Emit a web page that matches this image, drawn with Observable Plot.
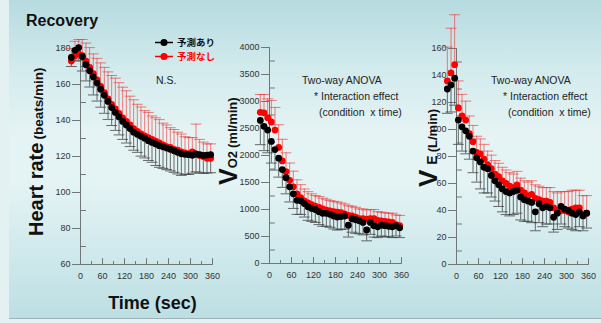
<!DOCTYPE html>
<html>
<head>
<meta charset="utf-8">
<script src="https://cdn.jsdelivr.net/npm/d3@7"></script>
<script src="https://cdn.jsdelivr.net/npm/@observablehq/plot@0.6"></script>
<style>
html, body { margin: 0; padding: 0; }
body { width: 601px; height: 323px; overflow: hidden; background: #e4f1f3; font-family: "Liberation Sans", Arial, sans-serif; }
#wrap { position: relative; width: 601px; height: 323px; }
#bg { position: absolute; left: 9px; top: 0; width: 592px; height: 318px;
  background: linear-gradient(180deg, #b6dbe0 0%, #d3ebed 22%, #e5f3f4 42%, #e4f3f4 58%, #cde8eb 82%, #bcdfe3 100%);
  border-bottom: 1px solid #9fb3b6; }
.panel { position: absolute; top: 0; }
#overlay { position: absolute; left: 0; top: 0; pointer-events: none; }
</style>
</head>
<body>
<div id="wrap">
  <div id="bg"></div>
  <div id="p1" class="panel" style="left:0px;width:240px;height:300px"></div>
  <div id="p2" class="panel" style="left:200px;width:220px;height:300px"></div>
  <div id="p3" class="panel" style="left:390px;width:211px;height:300px"></div>
  <svg id="overlay" width="601" height="323" font-family="Liberation Sans, Arial, sans-serif">
    <text x="26" y="26" font-size="16" font-weight="bold" fill="#111">Recovery</text>
    <!-- legend -->
    <line x1="155" x2="173" y1="42.5" y2="42.5" stroke="#000" stroke-width="1.5"/>
    <circle cx="164" cy="42.5" r="3.6" fill="#000"/>
    <text x="177" y="46" font-size="9.5" font-weight="bold" fill="#111" font-family="Noto Sans CJK JP, sans-serif">予測あり</text>
    <line x1="155" x2="173" y1="56.5" y2="56.5" stroke="#ff0000" stroke-width="1.5"/>
    <circle cx="164" cy="56.5" r="3.6" fill="#ff0000"/>
    <text x="177" y="60" font-size="9.5" font-weight="bold" fill="#ff0000" font-family="Noto Sans CJK JP, sans-serif">予測なし</text>
    <text x="156" y="84" font-size="10.5" fill="#222">N.S.</text>
    <!-- panel 2 notes -->
    <text x="302" y="84" font-size="10.5" fill="#222">Two-way ANOVA</text>
    <text x="314" y="100" font-size="10.5" fill="#222">* Interaction effect</text>
    <text x="319" y="116" font-size="10.5" fill="#222" xml:space="preserve">(condition  x time)</text>
    <!-- panel 3 notes -->
    <text x="491" y="84" font-size="10.5" fill="#222">Two-way ANOVA</text>
    <text x="503" y="100" font-size="10.5" fill="#222">* Interaction effect</text>
    <text x="508" y="116" font-size="10.5" fill="#222" xml:space="preserve">(condition  x time)</text>
    <!-- axis titles -->
    <text x="152.5" y="309" font-size="18" font-weight="bold" fill="#111" text-anchor="middle">Time (sec)</text>
    <text transform="translate(43,236) rotate(-90)" font-weight="bold" fill="#111"><tspan font-size="20">Heart rate</tspan><tspan font-size="13.5" dx="3">(beats/min)</tspan></text>
    <text transform="translate(237,185) rotate(-90)" font-weight="bold" fill="#111"><tspan font-size="25">V</tspan><tspan font-size="13">O2</tspan><tspan font-size="13" dx="3">(ml/min)</tspan></text>
    <text transform="translate(437,187) rotate(-90)" font-weight="bold" fill="#111"><tspan font-size="26">V</tspan><tspan font-size="14" dx="5">E</tspan><tspan font-size="13" dx="3">(L/min)</tspan></text>
  </svg>
</div>
<script>
// ---- data ----
const times = [-25,-15,-5,5,15,25,35,45,55,65,75,85,95,105,115,125,135,145,155,165,175,185,195,205,215,225,235,245,255,265,275,285,295,305,315,325,335,345,355];

// Heart rate (beats/min)
const hrWith      = [175,179,180.5,175.5,171,167.6,164.2,160.8,157.4,154,150.6,147.2,144.5,142,139.5,137.5,135.5,133.5,132.3,131.2,130.2,128.8,127.8,127,126,125.4,124.7,124,123.2,122.3,121.5,121.2,121,120.7,121.5,121,120.6,120.8,121];
const hrWithSD    = [5,6,7,8,9,9,10,10,10,10,10,10,10,10,10,10,10,10,10,11,11,11,11,12,12,12,12,12,12,12,12,11,11,10,10,10,10,10,10];
const hrWithout   = [173,176,177,176,173,169.5,166,162.5,159,155.5,152,149,146.5,144,141.5,139.5,137.5,135.5,134,132.5,131.5,130.5,129.5,128.5,127.5,126.5,125.5,125,124,123.5,122.5,122,121.5,122.5,121,120.5,120,119,119];
const hrWithoutSD = [7,8,8,9,10,11,11,12,13,14,15,16,17,17,17,17,16,16,15,15,14,14,13,13,13,12,12,11,11,10,10,9,9,8,17,9,8,8,8];

// VO2 (ml/min)
const vo2With      = [2650,2540,2470,2260,2110,1950,1740,1590,1420,1290,1170,1160,1110,1050,1020,1000,960,930,930,910,880,860,870,880,710,830,810,790,760,620,760,700,680,710,700,690,680,700,660];
const vo2WithSD    = [450,450,420,400,380,350,330,300,280,270,260,250,250,250,240,240,240,240,240,240,240,240,240,240,220,250,250,240,230,200,220,210,200,200,200,200,200,190,180];
const vo2Without   = [2800,2790,2700,2620,2470,2150,1900,1700,1540,1420,1290,1220,1160,1120,1090,1060,1040,1010,990,975,960,950,940,920,890,880,860,830,830,820,830,830,800,790,780,770,760,720,700];
const vo2WithoutSD = [330,340,350,400,420,420,400,350,320,290,260,240,220,210,200,200,200,200,200,190,190,190,180,180,180,180,180,180,180,170,170,170,160,160,160,160,170,180,190];

// VE (L/min)
const veWith      = [130,133,138,107,102,99,95,84,79,76,72,71,66,62,59,56,54,53,54,55,50,48,47,46,39,45,42,43,42,35,38,43,41,40,38,37,39,36,38];
const veWithSD    = [18,20,20,18,18,17,17,16,18,20,19,18,16,15,16,17,17,17,17,17,17,16,15,15,14,14,14,13,12,11,12,13,13,13,12,12,11,11,11];
const veWithout   = [136,142,148,116,110,107,97,91,83,82,78,74,71,67,65,62,60,58,57,59,55,53,51,52,49,48,47,47,46,42,40,40,40,39,41,42,42,37,38];
const veWithoutSD = [25,33,37,20,16,14,13,12,12,11,11,10,10,10,10,10,10,10,10,10,9,9,10,10,10,10,10,10,11,12,13,14,14,15,14,13,13,14,13];

// ticks
const xTicks = [0,60,120,180,240,300,360];
const xMinor = [30,90,150,210,270,330];
const hrTicks = [60,80,100,120,140,160,180];
const hrMinor = [70,90,110,130,150,170];
const vo2Ticks = [0,500,1000,1500,2000,2500,3000,3500,4000];
const vo2Minor = [250,750,1250,1750,2250,2750,3250,3750];
const veTicks = [0,20,40,60,80,100,120,140,160];
const veMinor = [10,30,50,70,90,110,130,150];

// ---- drawing ----
const lineShape = { draw(ctx, l) { ctx.moveTo(0, 0); ctx.lineTo(0, -l); } };
const AX = "#6f7778";
const RED_BAR = "#f03a3a";
const BLK_BAR = "#3a3a3a";
const plain = d => String(d);

function panel(el, cfg) {
  const rows = times.map((t, i) => ({
    t, a: cfg.withV[i], as: cfg.withSD[i], b: cfg.withoutV[i], bs: cfg.withoutSD[i]
  }));
  const chart = Plot.plot({
    width: cfg.width, height: 300,
    marginTop: cfg.mt, marginBottom: 300 - cfg.bottomY, marginLeft: cfg.ml, marginRight: cfg.width - cfg.ml - 132,
    style: { background: "transparent", overflow: "visible", fontFamily: "Liberation Sans, Arial, sans-serif", fontSize: "9px", color: "#333" },
    x: { domain: [0, 360] },
    y: { domain: cfg.yDomain },
    marks: [
      Plot.ruleX([0], { stroke: AX, strokeWidth: 1 }),
      Plot.ruleY([cfg.yDomain[0]], { stroke: AX, strokeWidth: 1 }),
      Plot.axisX(xTicks, { tickSize: 0, tickPadding: 8, label: null, tickFormat: plain }),
      Plot.axisY(cfg.yTicks, { tickSize: 0, tickPadding: 10, label: null, tickFormat: plain }),
      Plot.vector(cfg.yTicks, { y: d => d, frameAnchor: "left", rotate: -90, length: 8, anchor: "start", shape: lineShape, stroke: AX, strokeWidth: 1, fill: "none" }),
      Plot.vector(cfg.yMinor, { y: d => d, frameAnchor: "left", rotate: 90, length: 5, anchor: "start", shape: lineShape, stroke: AX, strokeWidth: 1, fill: "none" }),
      Plot.vector(xTicks, { x: d => d, frameAnchor: "bottom", rotate: 0, length: 6, anchor: "start", shape: lineShape, stroke: AX, strokeWidth: 1, fill: "none" }),
      Plot.vector(xMinor, { x: d => d, frameAnchor: "bottom", rotate: 0, length: 3, anchor: "start", shape: lineShape, stroke: AX, strokeWidth: 1, fill: "none" }),
      // error bars: red upward, black downward
      Plot.ruleX(rows, { x: "t", y1: "b", y2: d => d.b + d.bs, stroke: RED_BAR, strokeOpacity: 0.65, strokeWidth: 1 }),
      Plot.vector(rows, { x: "t", y: d => d.b + d.bs, rotate: 90, length: 10, anchor: "middle", shape: lineShape, stroke: RED_BAR, strokeOpacity: 0.65, strokeWidth: 1, fill: "none" }),
      Plot.ruleX(rows, { x: "t", y1: "a", y2: d => d.a - d.as, stroke: BLK_BAR, strokeOpacity: 0.75, strokeWidth: 1 }),
      Plot.vector(rows, { x: "t", y: d => d.a - d.as, rotate: 90, length: 10, anchor: "middle", shape: lineShape, stroke: BLK_BAR, strokeOpacity: 0.75, strokeWidth: 1, fill: "none" }),
      Plot.dot(rows, { x: "t", y: "b", r: 3.4, fill: "#ff0000" }),
      Plot.dot(rows, { x: "t", y: "a", r: 3.4, fill: "#000000" })
    ]
  });
  document.getElementById(el).appendChild(chart);
}

panel("p1", { width: 240, ml: 80, mt: 48, bottomY: 264, yDomain: [60, 180], yTicks: hrTicks, yMinor: hrMinor,
  withV: hrWith, withSD: hrWithSD, withoutV: hrWithout, withoutSD: hrWithoutSD });
panel("p2", { width: 220, ml: 69, mt: 47, bottomY: 263, yDomain: [0, 4000], yTicks: vo2Ticks, yMinor: vo2Minor,
  withV: vo2With, withSD: vo2WithSD, withoutV: vo2Without, withoutSD: vo2WithoutSD });
panel("p3", { width: 211, ml: 66, mt: 48, bottomY: 264, yDomain: [0, 160], yTicks: veTicks, yMinor: veMinor,
  withV: veWith, withSD: veWithSD, withoutV: veWithout, withoutSD: veWithoutSD });
</script>
</body>
</html>
